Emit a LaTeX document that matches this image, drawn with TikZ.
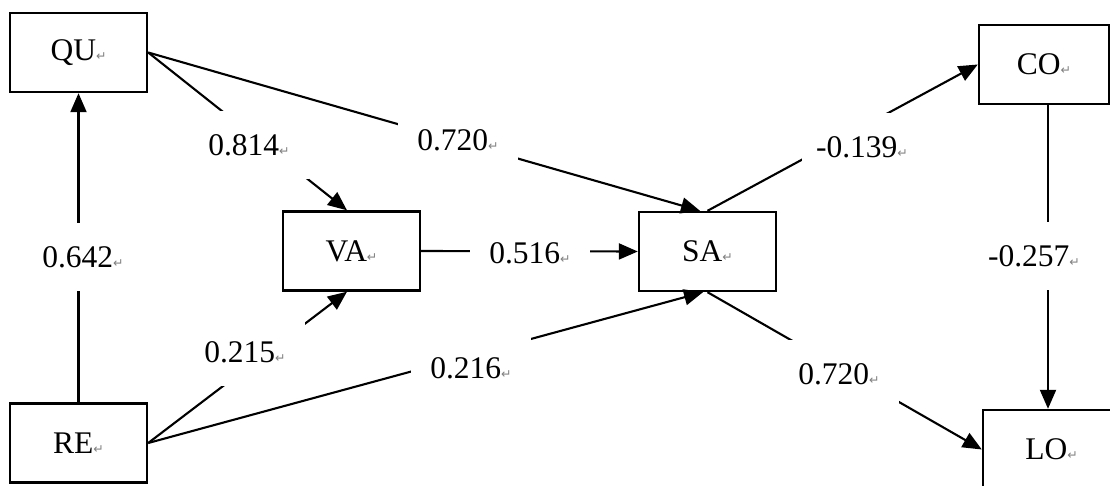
\documentclass[tikz,border=0pt]{standalone}
\usepackage{fontspec}
\setmainfont{Liberation Serif}
\newfontfamily\markfont{DejaVu Sans}
\usetikzlibrary{arrows.meta}
\newcommand{\pmk}{{\markfont\fontsize{12.5}{14}\selectfont\color{black!50}↵}}
\begin{document}
\begin{tikzpicture}[x=1pt,y=-1pt,
  box/.style={draw, line width=2.4pt, minimum width=137pt, minimum height=79pt, inner sep=0pt, font=\fontsize{31.5}{36}\selectfont},
  lbl/.style={fill=white, minimum width=120pt, minimum height=68pt, inner sep=0pt, font=\fontsize{31.5}{36}\selectfont},
  arr/.style={line width=2.1pt, -{Triangle[length=19pt,width=16pt]}}]
\useasboundingbox (0,0) rectangle (1110,486);
\clip (0,0) rectangle (1110,486);
\fill[white] (0,0) rectangle (1110,486);
% boxes
\node[box] (QU) at (78.5,52.5) {QU\pmk};
\node[box] (RE) at (78.5,443) {RE\pmk};
\node[box] (VA) at (351.5,251) {VA\pmk};
\node[box] (SA) at (707.5,251.5) {SA\pmk};
\node[box, minimum width=130pt] (CO) at (1044,64.5) {CO\pmk};
\node[box] (LO) at (1051.5,449.5) {LO\pmk};
% connectors
\draw[arr] (RE.north) -- (QU.south);
\draw[arr] (QU.east) -- ([xshift=-4.5pt]VA.north);
\draw[arr] (QU.east) -- ([xshift=-7.5pt]SA.north);
\draw[arr] (RE.east) -- ([xshift=-4.5pt]VA.south);
\draw[arr] (RE.east) -- ([xshift=-4.5pt]SA.south);
\draw[arr] (VA.east) -- (SA.west);
\draw[arr] (SA.north) -- (CO.west);
\draw[arr] (SA.south) -- (LO.west);
\draw[arr] ([xshift=4pt]CO.south) -- ([xshift=-3.5pt]LO.north);
% labels
\node[lbl] (l814) at (249,145) {0.814\pmk};
\node[lbl] (l720a) at (458,140) {0.720\pmk};
\node[lbl] (l642) at (83,257) {0.642\pmk};
\node[lbl] (l516) at (530,253) {0.516\pmk};
\node[lbl] (l215) at (245,352) {0.215\pmk};
\node[lbl] (l216) at (471,368) {0.216\pmk};
\node[lbl] (l139) at (862,147) {-0.139\pmk};
\node[lbl] (l257) at (1034,256) {-0.257\pmk};
\node[lbl] (l720b) at (839,374) {0.720\pmk};
\end{tikzpicture}
\end{document}
